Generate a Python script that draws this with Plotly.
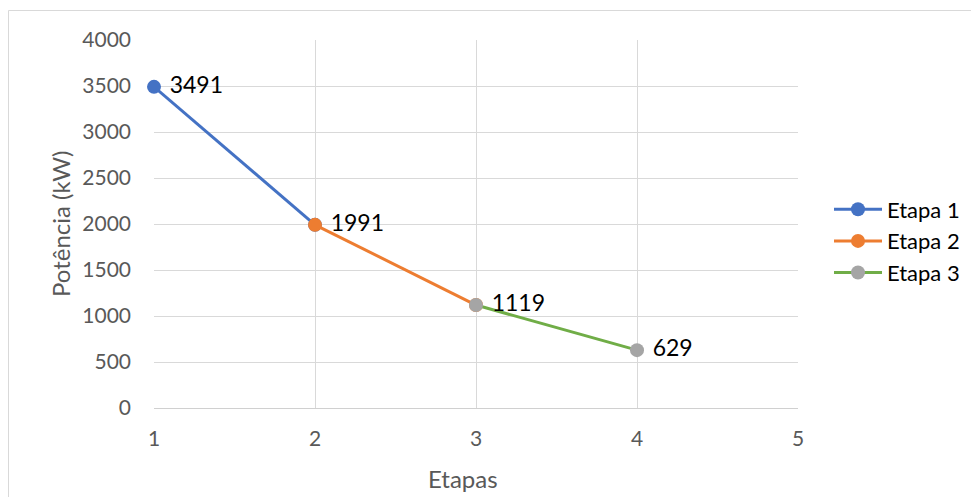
import plotly.graph_objects as go

etapa1_x = [1, 2]
etapa1_y = [3491, 1991]
etapa2_x = [2, 3]
etapa2_y = [1991, 1119]
etapa3_x = [3, 4]
etapa3_y = [1119, 629]
etapa1_labels = ["3491", ""]
etapa2_labels = ["1991", ""]
etapa3_labels = ["1119", "629"]

FONT = "Lato"
OFF = 8  # page body margin
W, H = 979 - OFF, 497 - OFF
L, T = 154 - OFF, 40 - OFF
R = W - (798 - OFF)
B = H - (408 - OFF)
PW = W - L - R
PH = H - T - B

# convert reference-screen pixel coordinates to paper coords
def px(x):
    return (x - OFF - L) / PW

def py(y):
    return (H - B - (y - OFF)) / PH

fig = go.Figure()

series = [
    ("Etapa 1", etapa1_x, etapa1_y, etapa1_labels, "#4472C4", "#4472C4"),
    ("Etapa 2", etapa2_x, etapa2_y, etapa2_labels, "#ED7D31", "#ED7D31"),
    ("Etapa 3", etapa3_x, etapa3_y, etapa3_labels, "#70AD47", "#A5A5A5"),
]
for name, xs, ys, labels, lc, mc in series:
    fig.add_trace(go.Scatter(
        x=xs, y=ys, name=name, mode="lines+markers+text",
        line=dict(color=lc, width=3),
        marker=dict(color=mc, size=14),
        text=[(" " + t) if t else "" for t in labels],
        textposition="middle right",
        textfont=dict(family=FONT, size=23, color="#000000"),
        cliponaxis=False,
    ))

fig.update_layout(
    width=W, height=H,
    margin=dict(l=L, r=R, t=T, b=B),
    paper_bgcolor="white", plot_bgcolor="white",
    font=dict(family=FONT, color="#595959"),
    showlegend=True,
    legend=dict(
        x=px(829), y=py(241), xanchor="left", yanchor="middle",
        font=dict(family=FONT, size=22, color="#000000"),
        bgcolor="rgba(0,0,0,0)", itemwidth=48,
    ),
    xaxis=dict(
        range=[1, 5], tickvals=[1, 2, 3, 4, 5], showgrid=True,
        gridcolor="#d9d9d9", gridwidth=1, zeroline=False,
        showline=True, linecolor="#d0d0d0", linewidth=1,
        tickfont=dict(family=FONT, size=21, color="#595959"),
        ticks="", ticklabelstandoff=12,
    ),
    yaxis=dict(
        range=[0, 4000], tickvals=list(range(0, 4001, 500)), showgrid=True,
        gridcolor="#d9d9d9", gridwidth=1, zeroline=False,
        tickfont=dict(family=FONT, size=21, color="#595959"),
        ticks="", ticklabelstandoff=22,
    ),
    annotations=[
        dict(text="Etapas", xref="paper", yref="paper", x=px(463), y=py(478),
             showarrow=False, font=dict(family=FONT, size=24, color="#595959"),
             xanchor="center", yanchor="middle"),
        dict(text="Potência (kW)", xref="paper", yref="paper", x=px(60), y=py(224),
             showarrow=False, textangle=-90,
             font=dict(family=FONT, size=24, color="#595959"),
             xanchor="center", yanchor="middle"),
    ],
    shapes=[
        dict(type="line", xref="paper", yref="paper", x0=px(8.5), x1=px(978),
             y0=py(10.5), y1=py(10.5), line=dict(color="#d9d9d9", width=1)),
        dict(type="line", xref="paper", yref="paper", x0=px(8.5), x1=px(8.5),
             y0=py(10.5), y1=py(497), line=dict(color="#d9d9d9", width=1)),
    ],
)

fig.write_html("out.html")
